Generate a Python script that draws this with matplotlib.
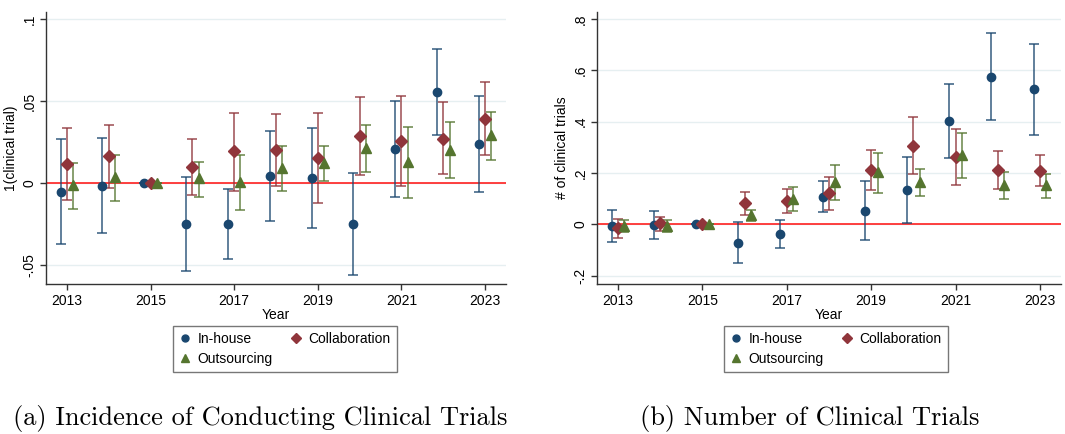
import numpy as np
import matplotlib.pyplot as plt
from matplotlib.lines import Line2D

# Event-study coefficients by organisational mode, with 95% CI bounds
years = np.arange(2013, 2024)

# (a) 1(clinical trial)
inc_inhouse = [-0.0055, -0.0018, 0.0, -0.025, -0.025, 0.0041, 0.0028, -0.025, 0.0205, 0.0555, 0.0238]
inc_inhouse_lo = [-0.0372, -0.0303, 0.0, -0.0535, -0.0465, -0.0232, -0.0274, -0.0563, -0.0083, 0.0293, -0.0055]
inc_inhouse_hi = [0.0266, 0.0272, 0.0, 0.0037, -0.0035, 0.0315, 0.0335, 0.0063, 0.0500, 0.0817, 0.0530]

inc_collab = [0.0116, 0.0163, 0.0, 0.0100, 0.0193, 0.0199, 0.0154, 0.0287, 0.0256, 0.0270, 0.0392]
inc_collab_lo = [-0.0104, -0.0028, 0.0, -0.0071, -0.0047, -0.0016, -0.0120, 0.0047, -0.0018, 0.0053, 0.0171]
inc_collab_hi = [0.0333, 0.0352, 0.0, 0.0268, 0.0429, 0.0419, 0.0427, 0.0526, 0.0533, 0.0492, 0.0618]

inc_outsrc = [-0.0012, 0.0035, 0.0, 0.0028, 0.0008, 0.0093, 0.0124, 0.0215, 0.0126, 0.0203, 0.0291]
inc_outsrc_lo = [-0.0159, -0.0110, 0.0, -0.0083, -0.0167, -0.0051, 0.0012, 0.0067, -0.0094, 0.0028, 0.0140]
inc_outsrc_hi = [0.0124, 0.0169, 0.0, 0.0128, 0.0173, 0.0228, 0.0228, 0.0356, 0.0343, 0.0374, 0.0433]

# (b) number of clinical trials
num_inhouse = [-0.005, -0.003, 0.0, -0.073, -0.039, 0.108, 0.053, 0.135, 0.404, 0.575, 0.526]
num_inhouse_lo = [-0.069, -0.056, 0.0, -0.151, -0.094, 0.047, -0.061, 0.006, 0.258, 0.405, 0.349]
num_inhouse_hi = [0.057, 0.053, 0.0, 0.008, 0.017, 0.169, 0.170, 0.264, 0.549, 0.747, 0.703]

num_collab = [-0.016, 0.004, 0.0, 0.082, 0.091, 0.121, 0.213, 0.306, 0.261, 0.212, 0.208]
num_collab_lo = [-0.052, -0.026, 0.0, 0.035, 0.045, 0.057, 0.135, 0.195, 0.155, 0.136, 0.148]
num_collab_hi = [0.021, 0.030, 0.0, 0.127, 0.138, 0.183, 0.290, 0.419, 0.370, 0.287, 0.269]

num_outsrc = [-0.005, -0.005, 0.0, 0.038, 0.100, 0.165, 0.203, 0.165, 0.269, 0.152, 0.152]
num_outsrc_lo = [-0.032, -0.030, 0.0, 0.013, 0.051, 0.096, 0.123, 0.110, 0.181, 0.097, 0.101]
num_outsrc_hi = [0.018, 0.016, 0.0, 0.056, 0.147, 0.230, 0.277, 0.214, 0.357, 0.203, 0.196]

labels = ["In-house", "Collaboration", "Outsourcing"]
colors = ["#1a476f", "#90353b", "#55752f"]
markers = ["o", "D", "^"]
msizes = [6.0, 6.0, 6.5]
offsets = [-0.15, 0.0, 0.15]

sans = ["Liberation Sans", "DejaVu Sans"]
plt.rcParams["font.family"] = sans

fig = plt.figure(figsize=(10.65, 4.34), dpi=100)
ax1 = fig.add_axes([46 / 1065, 150 / 434, 460 / 1065, 272 / 434])
ax2 = fig.add_axes([597 / 1065, 150 / 434, 464 / 1065, 272 / 434])


def draw_panel(ax, series, yticks, ytlabels, ylim, ylabel):
    ax.axhline(0, color="#ff2020", lw=1.2, zorder=1)
    for (est, lo, hi), lab, c, m, ms, off in zip(series, labels, colors, markers, msizes, offsets):
        est = np.array(est)
        err = np.vstack([est - np.array(lo), np.array(hi) - est])
        x = years + off
        ax.errorbar(x, est, yerr=err, fmt="none", ecolor=c, alpha=0.75,
                    elinewidth=1.3, capsize=3.3, capthick=1.3, zorder=2)
        ax.plot(x, est, ls="none", marker=m, ms=ms, color=c, mec=c, zorder=3, label=lab)
    ax.set_xlim(2012.5, 2023.5)
    ax.set_ylim(*ylim)
    ax.set_xticks(np.arange(2013, 2024, 2))
    ax.set_yticks(yticks)
    ax.set_yticklabels(ytlabels, rotation=90, va="center")
    ax.tick_params(labelsize=10, length=4, color="#333333", width=1, pad=3)
    ax.grid(axis="y", color="#e6eff1", lw=1)
    ax.set_axisbelow(True)
    for s in ["top", "right"]:
        ax.spines[s].set_visible(False)
    for s in ["left", "bottom"]:
        ax.spines[s].set_color("#333333")
        ax.spines[s].set_linewidth(1)
    ax.set_xlabel("Year", fontsize=10, labelpad=0)
    ax.set_ylabel(ylabel, fontsize=10, labelpad=3)


draw_panel(ax1,
           [(inc_inhouse, inc_inhouse_lo, inc_inhouse_hi),
            (inc_collab, inc_collab_lo, inc_collab_hi),
            (inc_outsrc, inc_outsrc_lo, inc_outsrc_hi)],
           [-0.05, 0, 0.05, 0.1], ["-.05", "0", ".05", ".1"],
           (-0.0616, 0.1043), "1(clinical trial)")
draw_panel(ax2,
           [(num_inhouse, num_inhouse_lo, num_inhouse_hi),
            (num_collab, num_collab_lo, num_collab_hi),
            (num_outsrc, num_outsrc_lo, num_outsrc_hi)],
           [-0.2, 0, 0.2, 0.4, 0.6, 0.8], ["-.2", "0", ".2", ".4", ".6", ".8"],
           (-0.233, 0.828), "# of clinical trials")

# legends below each panel, filled row by row
handles = [Line2D([], [], ls="none", marker=m, ms=ms - 1, color=c) for m, ms, c in zip(markers, msizes, colors)]
order = [0, 2, 1]
for cx in [285 / 1065, 836 / 1065]:
    fig.legend([handles[i] for i in order], [labels[i] for i in order], ncol=2, loc="center",
               bbox_to_anchor=(cx, (434 - 349) / 434),
               fontsize=10, frameon=True, fancybox=False, edgecolor="#555555",
               handlelength=0.8, handletextpad=0.5, columnspacing=1.3,
               labelspacing=0.45, borderpad=0.45)

fig.text(260 / 1065, 1 - 419 / 434, "(a) Incidence of Conducting Clinical Trials",
         family=["cmr10", "DejaVu Serif"], fontsize=19, ha="center", va="center")
fig.text(810 / 1065, 1 - 419 / 434, "(b) Number of Clinical Trials",
         family=["cmr10", "DejaVu Serif"], fontsize=19, ha="center", va="center")

fig.savefig("out.png", dpi=100)
